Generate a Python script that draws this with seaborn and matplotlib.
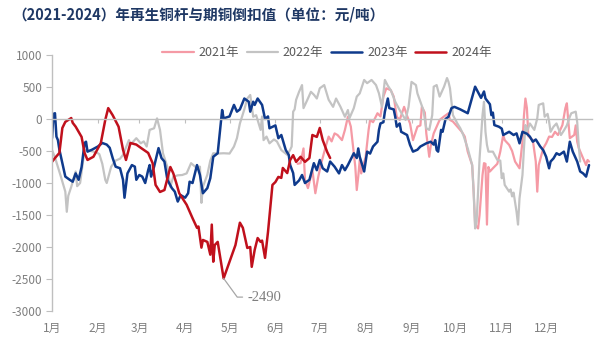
import matplotlib
matplotlib.use("Agg")
import matplotlib.pyplot as plt
import seaborn as sns

# Day-of-year positions and spread values (元/吨) for each year
days_2021 = [167, 169, 171, 172, 174, 177, 179, 181, 183, 186,
             188, 190, 192, 194, 197, 199, 201, 203, 204, 206,
             207, 208, 209, 210, 213, 215, 216, 218, 221, 223,
             225, 227, 230, 232, 234, 236, 239, 241, 243, 245,
             248, 250, 251, 253, 254, 256, 257, 259, 261, 263,
             266, 269, 270, 272, 275, 278, 280, 282, 285, 286,
             287, 289, 290, 292, 293, 294, 295, 296, 297, 299,
             302, 304, 306, 307, 310, 312, 314, 317, 319, 320,
             321, 322, 323, 326, 328, 329, 330, 333, 335, 337,
             339, 341, 343, 346, 348, 349, 350, 351, 354, 355,
             356, 357, 360, 362, 363, 364]
vals_2021 = [-700, -690, -460, -950, -1080, -800, -1160, -900, -690, -430,
             -275, -350, -225, -250, -330, -170, 35, -120, -330, -745,
             -1110, -900, -640, -850, -590, -170, -15, -50, 90, 40,
             350, 480, 450, 350, 35, -15, 190, 50, -70, -330,
             -120, -100, 190, 100, -225, -590, -420, -225, -120, -15,
             40, 90, -15, -40, -120, -200, -275, -510, -720, -1135,
             -1650, -1710, -1500, -875, -690, -700, -1650, -750, -820, -770,
             -700, -510, -250, -330, -405, -500, -665, -770, -355, 50,
             320, 170, -270, -330, -665, -1135, -720, -460, -380, -275,
             -280, -200, -250, -95, 170, 245, -40, -300, -250, -100,
             -355, -450, -615, -720, -640, -665]

days_2022 = [1, 3, 5, 7, 10, 11, 12, 14, 17, 18,
             20, 23, 27, 31, 33, 35, 37, 38, 41, 44,
             47, 49, 53, 54, 58, 61, 63, 65, 67, 70,
             72, 74, 76, 79, 81, 83, 86, 89, 92, 95,
             98, 101, 102, 103, 106, 108, 110, 113, 117, 121,
             124, 126, 128, 131, 133, 135, 137, 139, 142, 143,
             144, 146, 148, 151, 153, 156, 160, 162, 163, 164,
             165, 166, 168, 170, 171, 174, 176, 178, 180, 182,
             185, 188, 191, 193, 196, 199, 201, 202, 205, 207,
             209, 212, 214, 217, 220, 222, 224, 226, 228, 230,
             233, 236, 240, 242, 244, 247, 248, 250, 252, 254,
             256, 258, 259, 261, 263, 266, 268, 269, 270, 272,
             275, 277, 279, 282, 285, 286, 287, 288, 289, 290,
             292, 293, 294, 295, 296, 299, 302, 304, 305, 306,
             307, 310, 311, 312, 313, 315, 316, 317, 319, 320,
             321, 322, 324, 327, 329, 330, 333, 334, 336, 337,
             338, 340, 342, 345, 347, 349, 351, 352, 355, 356,
             357, 358]
vals_2022 = [-485, -600, -750, -900, -1135, -1450, -1200, -1060, -820, -1050,
             -1000, -485, -500, -520, -550, -700, -950, -1000, -745, -650,
             -620, -560, -330, -400, -300, -380, -350, -430, -170, -145,
             10, -170, -535, -750, -1060, -900, -880, -875, -850, -690,
             -750, -745, -1310, -1060, -870, -650, -535, -540, -535, -540,
             -430, -300, -70, 150, 320, 375, 35, 60, -170, 40,
             -330, -275, -380, -320, -350, -485, -560, -480, -430, 115,
             150, 300, 425, 530, 170, 320, 425, 380, 320, 480,
             530, 300, 190, 320, 190, 35, 140, 10, 170, 350,
             400, 610, 560, 610, 530, 400, 190, 610, 520, 450,
             270, 140, -15, 190, 580, 530, 400, 270, 140, -145,
             -170, 60, 505, 530, 350, 505, 640, 580, 480, 60,
             -70, -145, -250, -460, -720, -1135, -1710, -1600, -1135, -615,
             60, 270, -200, -405, -510, -510, -640, -650, -925, -850,
             -1030, -1135, -1100, -1210, -1150, -1450, -1650, -1240, -875, -460,
             -95, -200, -70, -170, 10, 220, 245, 35, 80, -40,
             -200, -120, -70, -250, -180, -100, 35, 90, 115, -50,
             -405, -665]

days_2023 = [1, 2, 3, 4, 5, 6, 8, 10, 13, 15,
             17, 19, 21, 23, 24, 25, 28, 32, 35, 38,
             40, 42, 44, 47, 49, 50, 52, 55, 57, 58,
             60, 62, 64, 66, 67, 68, 70, 73, 75, 77,
             79, 82, 84, 86, 88, 91, 93, 94, 96, 99,
             101, 103, 106, 108, 110, 113, 116, 117, 121, 124,
             126, 128, 131, 134, 135, 137, 138, 140, 143, 145,
             147, 148, 152, 154, 156, 159, 161, 162, 164, 165,
             168, 170, 172, 175, 178, 180, 182, 184, 187, 189,
             192, 195, 197, 199, 201, 205, 207, 208, 209, 212,
             214, 216, 218, 221, 222, 223, 225, 226, 228, 229,
             232, 233, 234, 236, 237, 241, 243, 245, 248, 250,
             252, 254, 257, 259, 260, 261, 262, 264, 265, 267,
             269, 271, 273, 277, 282, 287, 290, 291, 293, 294,
             297, 298, 299, 300, 303, 305, 306, 308, 310, 313,
             315, 317, 319, 322, 324, 326, 328, 331, 333, 335,
             337, 338, 340, 342, 344, 347, 349, 351, 353, 356,
             358, 360, 362, 364]
vals_2023 = [-300, 80, 90, -275, -330, -480, -690, -900, -950, -980,
             -850, -950, -750, -375, -355, -510, -480, -430, -375, -400,
             -450, -610, -745, -770, -950, -1230, -850, -720, -745, -950,
             -875, -900, -1000, -800, -720, -900, -745, -455, -610, -665,
             -950, -1080, -1135, -1290, -1190, -1230, -1160, -980, -1000, -720,
             -875, -1160, -1080, -925, -590, -535, 140, 10, 40, 220,
             115, 150, 320, 270, 115, 270, 220, 320, 220, 0,
             40, -145, -100, -300, -250, -485, -560, -720, -845, -1030,
             -960, -875, -1000, -950, -690, -800, -640, -770, -820, -665,
             -745, -850, -720, -800, -720, -535, -610, -460, -590, -820,
             -510, -540, -430, -355, -170, -70, -50, 115, 320, 170,
             150, 35, -120, -70, -200, -250, -405, -510, -480, -430,
             -405, -380, -355, -400, -330, -485, -510, -170, -200, 0,
             35, 170, 190, 150, 90, 505, 375, 330, 430, 320,
             230, 60, 100, -95, -120, -150, -250, -225, -200, -250,
             -225, -380, -200, -230, -275, -355, -320, -430, -485, -590,
             -770, -665, -615, -535, -560, -510, -665, -355, -510, -665,
             -820, -850, -900, -720]

days_2024 = [1, 3, 6, 8, 10, 14, 15, 17, 21, 23,
             25, 29, 34, 37, 39, 42, 46, 49, 51, 54,
             58, 61, 66, 69, 71, 74, 77, 81, 83, 85,
             87, 92, 96, 99, 100, 102, 103, 106, 108, 109,
             110, 111, 113, 117, 121, 125, 128, 130, 133, 135,
             136, 138, 140, 142, 143, 145, 147, 150, 152, 154,
             156, 157, 160, 162, 164, 166, 169, 172, 175, 177,
             180, 182, 184, 187, 189]
vals_2024 = [-670, -610, -530, -140, -45, 15, -60, -120, -280, -530,
             -640, -590, -375, -15, 170, 60, -120, -480, -640, -375,
             -400, -450, -530, -690, -1030, -1140, -1110, -750, -850, -1000,
             -1160, -1340, -1550, -1700, -1680, -2010, -1890, -1920, -2120, -1650,
             -2230, -1970, -1920, -2490, -2230, -1970, -1620, -1700, -2015, -2000,
             -2310, -2045, -1860, -1920, -1900, -2170, -1765, -1030, -985, -905,
             -920, -765, -845, -640, -565, -670, -590, -670, -610, -250,
             -280, -140, -330, -515, -610]

year_labels = ["2021年", "2022年", "2023年", "2024年"]
month_starts = [1, 32, 60, 91, 121, 152, 182, 213, 244, 274, 305, 335]
month_labels = ["1月", "2月", "3月", "4月", "5月", "6月",
                "7月", "8月", "9月", "10月", "11月", "12月"]
y_ticks = [1000, 500, 0, -500, -1000, -1500, -2000, -2500, -3000]
title = "（2021-2024）年再生铜杆与期铜倒扣值（单位：元/吨）"

sns.set_theme(style="white")
plt.rcParams["font.family"] = ["Noto Sans CJK SC", "DejaVu Sans"]
plt.rcParams["axes.unicode_minus"] = False

axis_grey = "#BFBFBF"
text_grey = "#7F7F7F"

fig = plt.figure(figsize=(6, 3.5), dpi=100)
ax = fig.add_axes([52 / 600, 1 - 311 / 350, 540 / 600, 256 / 350])

series = [
    (year_labels[0], days_2021, vals_2021, "#F59AA5", 1.6),
    (year_labels[1], days_2022, vals_2022, "#C3C3C3", 1.6),
    (year_labels[2], days_2023, vals_2023, "#0F3A8C", 1.8),
    (year_labels[3], days_2024, vals_2024, "#C0101C", 1.8),
]
for label, d, v, color, lw in series:
    sns.lineplot(x=d, y=v, ax=ax, color=color, linewidth=lw, label=label,
                 sort=False, estimator=None)

ax.set_xlim(1, 366)
ax.set_ylim(min(y_ticks), max(y_ticks))
ax.set_yticks(y_ticks)
ax.set_yticklabels([str(t) for t in y_ticks])

# horizontal axis drawn through zero, month labels along the bottom
for side in ("top", "right"):
    ax.spines[side].set_visible(False)
ax.spines["left"].set_color(axis_grey)
ax.spines["left"].set_linewidth(1.0)
ax.spines["bottom"].set_position(("data", 0))
ax.spines["bottom"].set_color(axis_grey)
ax.spines["bottom"].set_linewidth(1.0)
ax.set_xticks(month_starts)
ax.tick_params(axis="x", bottom=True, length=3, width=0.8, color=axis_grey,
               direction="out", labelbottom=False)
ax.tick_params(axis="y", left=True, length=4, width=0.8, color=axis_grey,
               labelsize=8.5, labelcolor=text_grey, pad=3)

sec = ax.secondary_xaxis("bottom")
sec.set_xticks(month_starts, labels=month_labels)
sec.tick_params(length=0, pad=8, labelsize=8.5, labelcolor=text_grey)
sec.spines["bottom"].set_visible(False)

ax.set_xlabel("")
ax.set_ylabel("")

# label the 2024 low
i_min = vals_2024.index(min(vals_2024))
ax.annotate(f"{vals_2024[i_min]}", xy=(days_2024[i_min], vals_2024[i_min]),
            xytext=(17, -13.5), textcoords="offset points",
            ha="left", va="center", fontsize=10.5, color=text_grey,
            family="Liberation Serif",
            arrowprops=dict(arrowstyle="-", color="#A6A6A6", lw=0.9,
                            connectionstyle="angle,angleA=0,angleB=-54",
                            shrinkA=1, shrinkB=0))

handles, labels = ax.get_legend_handles_labels()
ax.get_legend().remove()
fig.legend(handles, labels, loc="center", bbox_to_anchor=(0.545, 0.849),
           ncol=4, frameon=False, fontsize=9, labelcolor="#595959",
           handlelength=2.5, handletextpad=0.4, columnspacing=0.6)

fig.text(12 / 600, 1 - 14 / 350, title, fontsize=10.5, fontweight="bold",
         color="#1F3864", ha="left", va="center")

fig.savefig("out.png", dpi=100, facecolor="white")
